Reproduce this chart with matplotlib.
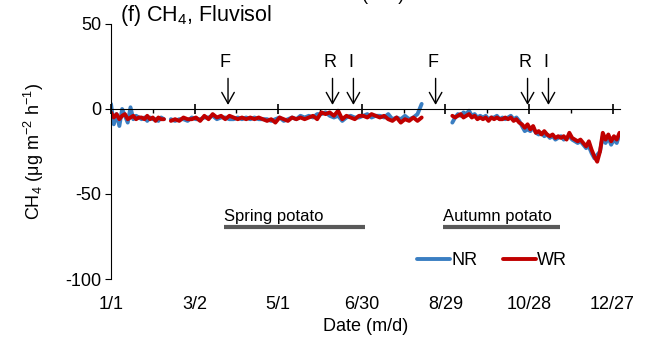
import numpy as np
import matplotlib
matplotlib.use("Agg")
import matplotlib.pyplot as plt

plt.rcParams["font.family"] = ["Liberation Sans", "DejaVu Sans"]
plt.rcParams["mathtext.default"] = "regular"
plt.rcParams["axes.unicode_minus"] = False

# day of year (0 = 1/1), three measured stretches with gaps between them
days_a = np.arange(0, 40, 2)
days_b = np.arange(43, 224, 3)
days_c = np.arange(245, 366, 2)

# NR (no residue) CH4 flux, ug m-2 h-1
nr_a = [3, -9, -3, -10, 0, -4, -8, 1, -6, -4, -5, -6, -5, -7, -5, -6, -6, -7, -5, -6]
nr_b = [-6, -7, -6, -6, -7, -5, -6, -6, -5, -5, -4, -6, -5, -5, -6, -6, -5, -6, -5, -6,
        -5, -6, -6, -6, -7, -6, -5, -7, -6, -5, -6, -4, -5, -4, -5, -3, -3, -2, -4, -5,
        -4, -7, -5, -4, -5, -5, -4, -3, -5, -4, -4, -5, -3, -6, -5, -6, -4, -6, -5, -3, 3]
nr_c = [-8, -5, -3, -4, -2, -3, -1, -4, -3, -5, -4, -5, -4, -6, -5, -5, -4, -6, -5, -6,
        -5, -4, -6, -5, -7, -10, -13, -12, -13, -11, -14, -15, -14, -16, -15, -17, -16, -18, -17, -16,
        -18, -17, -16, -18, -19, -20, -19, -21, -23, -22, -26, -29, -27, -25, -16, -20, -17, -21, -18, -20, -15]

# WR (with residue)
wr_a = [-2, -5, -3, -6, -4, -3, -6, -5, -4, -6, -5, -5, -6, -4, -6, -5, -7, -5, -6, -6]
wr_b = [-7, -6, -7, -5, -6, -6, -5, -7, -4, -6, -3, -5, -4, -6, -4, -5, -6, -5, -6, -5,
        -6, -5, -6, -7, -6, -8, -5, -6, -7, -5, -6, -5, -6, -5, -4, -6, -2, -3, -2, -4,
        -1, -6, -4, -5, -6, -4, -4, -5, -3, -4, -5, -4, -6, -7, -5, -8, -6, -7, -5, -7, -5]
wr_c = [-4, -5, -4, -3, -5, -4, -3, -5, -4, -6, -5, -6, -5, -7, -5, -6, -5, -6, -6, -5,
        -6, -5, -7, -6, -8, -9, -11, -9, -12, -10, -14, -13, -15, -13, -15, -16, -15, -17, -16, -17,
        -16, -18, -14, -17, -18, -19, -18, -20, -22, -19, -24, -28, -31, -25, -14, -18, -15, -19, -16, -18, -14]

# management events: F = fertilization, R = ridging, I = irrigation
event_labels = ["F", "R", "I", "F", "R", "I"]
event_days = [84, 159, 174, 233, 299, 314]

crop_names = ["Spring potato", "Autumn potato"]
crop_start = [81, 238]
crop_end = [182, 322]

tick_days = [0, 60, 120, 180, 240, 300, 360]
tick_labels = ["1/1", "3/2", "5/1", "6/30", "8/29", "10/28", "12/27"]

blue = "#3A7EC2"
red = "#C00000"

fig = plt.figure(figsize=(6.5, 3.51), dpi=100)
ax = fig.add_axes([111 / 650, 1 - 279 / 351, 508.5 / 650, 255 / 351])

for d, v in [(days_a, nr_a), (days_b, nr_b), (days_c, nr_c)]:
    ax.plot(d, v, color=blue, lw=2.8, solid_capstyle="round", label="NR" if d is days_a else None)
for d, v in [(days_a, wr_a), (days_b, wr_b), (days_c, wr_c)]:
    ax.plot(d, v, color=red, lw=2.8, solid_capstyle="round", label="WR" if d is days_a else None)

ax.set_xlim(0, 365)
ax.set_ylim(-100, 50)
ax.set_yticks([-100, -50, 0, 50])

# x axis line sits on zero, labels go on the bottom
ax.spines["bottom"].set_position(("data", 0))
ax.spines["top"].set_visible(False)
ax.spines["right"].set_visible(False)
ax.set_xticks(tick_days)
ax.set_xticks(np.arange(30, 365, 60), minor=True)
ax.tick_params(axis="x", which="major", direction="inout", length=7, width=1.2, labelbottom=False)
ax.tick_params(axis="x", which="minor", direction="out", length=3, width=1)
ax.tick_params(axis="y", direction="out", length=4, labelsize=13, pad=3)

sec = ax.secondary_xaxis(0)
sec.set_xticks(tick_days)
sec.set_xticklabels(tick_labels)
sec.spines["bottom"].set_visible(False)
sec.tick_params(length=0, labelsize=13, pad=12)
sec.set_xlabel("Date (m/d)", fontsize=13, labelpad=4)

ax.set_ylabel("CH$_4$ (μg m$^{-2}$ h$^{-1}$)", fontsize=13, labelpad=14)

for lab, d in zip(event_labels, event_days):
    ax.annotate("", xy=(d, 2.4), xytext=(d, 18),
                arrowprops=dict(arrowstyle="->,head_length=0.8,head_width=0.45",
                                lw=1, color="black", mutation_scale=10,
                                shrinkA=0, shrinkB=0))
    ax.text(d - 2, 27.5, lab, ha="center", va="center", fontsize=13)

for name, s, e in zip(crop_names, crop_start, crop_end):
    ax.plot([s, e], [-69.5, -69.5], color="#595959", lw=3, solid_capstyle="butt")
    ax.text(s, -67.5, name, ha="left", va="bottom", fontsize=12)

ax.legend(loc="center", bbox_to_anchor=(0.75, 0.071), ncol=2, frameon=False,
          fontsize=13, handlelength=1.8, handletextpad=0.1, columnspacing=1.4)

fig.text(120 / 650, 1 - 16 / 351, "(f) CH$_4$, Fluvisol", fontsize=15.5, ha="left", va="center")
# bottom of the x label from the panel above, cut by the frame
fig.text(362 / 650, 1 + 4 / 351, "Date (m/d)", fontsize=13, ha="center", va="center")

fig.savefig("out.png", dpi=100)
